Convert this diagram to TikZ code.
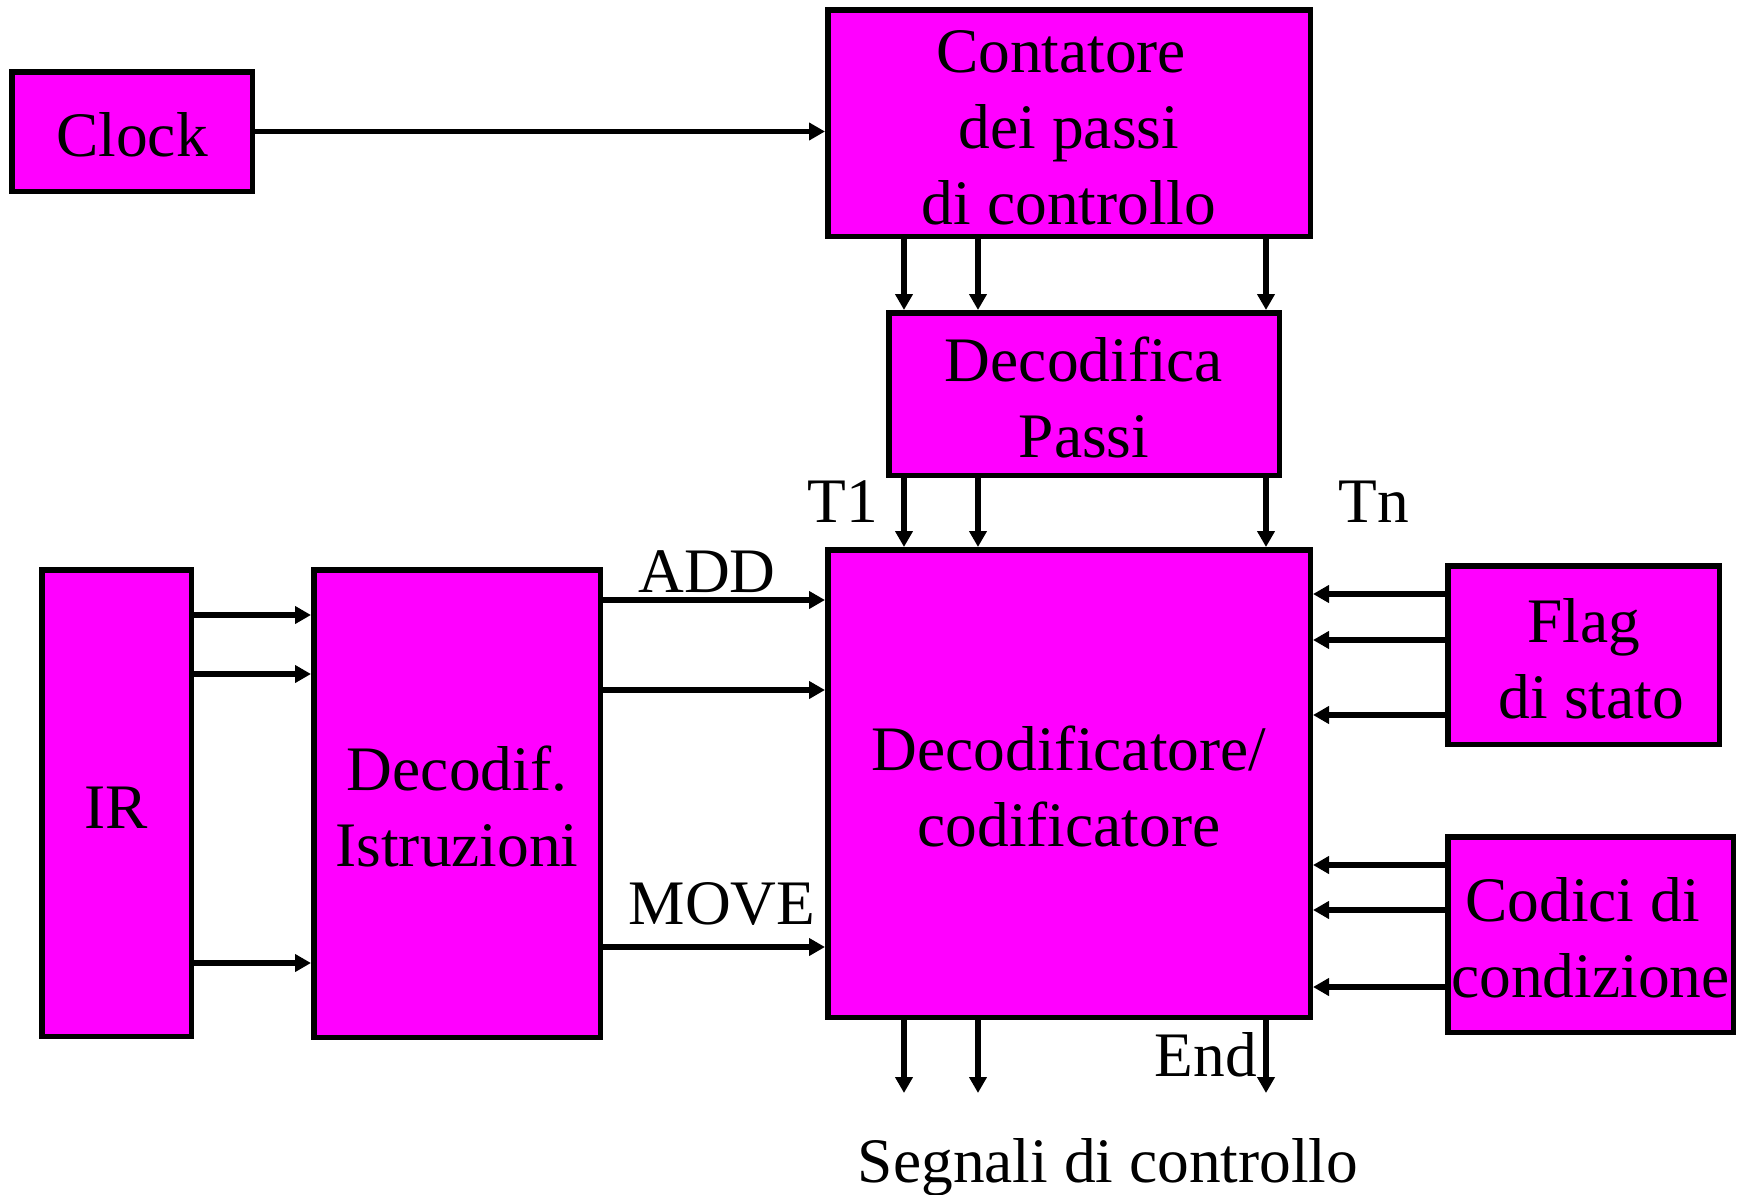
\documentclass[tikz,border=0pt]{standalone}
\usepackage{fontspec}
\setmainfont{Liberation Serif}
\usetikzlibrary{arrows.meta}
\definecolor{mag}{HTML}{FF00FF}
\newcommand{\tp}{\rule{0pt}{25.5pt}}
\newcommand{\padsp}{\hspace*{0.25em}}
\begin{document}
\begin{tikzpicture}[x=0.5pt,y=-0.5pt,
  box/.style={draw=black,fill=mag,line width=2.75pt,inner sep=0pt,align=center,
    font=\fontsize{31.7}{38}\selectfont},
  lbl/.style={inner sep=0pt,anchor=base,font=\fontsize{31.7}{38}\selectfont},
  arr/.style={line width=2.75pt,-{Triangle[length=8pt,width=8.5pt]}}]
\useasboundingbox (0,0) rectangle (1750,1194);
% boxes
\node[box,minimum width=120.25pt,minimum height=59.75pt] (clock) at (132,131.5) {\tp Clock};
\node[box,minimum width=241.25pt,minimum height=113.25pt] (cont) at (1069,123) {\tp Contatore\padsp\\dei passi\padsp\\di controllo};
\node[box,minimum width=195.25pt,minimum height=81.25pt] (dp) at (1084,394) {\tp Decodifica\\Passi};
\node[box,minimum width=241.25pt,minimum height=233.75pt] (dc) at (1069,783.5) {\tp Decodificatore/\\codificatore};
\node[box,minimum width=74.75pt,minimum height=233.25pt] (ir) at (116.5,803) {\tp IR};
\node[box,minimum width=143.25pt,minimum height=233.75pt] (di) at (457,803.5) {\tp Decodif.\\Istruzioni};
\node[box,minimum width=135.75pt,minimum height=89.25pt] (flag) at (1583.5,655) {\tp Flag\\\padsp di stato};
\node[box,minimum width=142.75pt,minimum height=97.75pt] (cod) at (1590.5,934.5) {\tp Codici di\padsp\\condizione};
% helper coordinates
\coordinate (xa) at (904,0);
\coordinate (xb) at (978,0);
\coordinate (xc) at (1266,0);
\coordinate (oa) at (904,1093);
\coordinate (ob) at (978,1093);
\coordinate (oc) at (1266,1093);
\coordinate (i1) at (0,615);
\coordinate (i2) at (0,674);
\coordinate (i3) at (0,963);
\coordinate (d1) at (0,600);
\coordinate (d2) at (0,690);
\coordinate (d3) at (0,947);
\coordinate (f1) at (0,594);
\coordinate (f2) at (0,640);
\coordinate (f3) at (0,715);
\coordinate (c1) at (0,865);
\coordinate (c2) at (0,910);
\coordinate (c3) at (0,987);
% connectors
\draw[arr] (clock.east) -- (clock.east -| cont.west);
\foreach \x in {xa,xb,xc} {
  \draw[arr] (cont.south -| \x) -- (dp.north -| \x);
  \draw[arr] (dp.south -| \x) -- (dc.north -| \x);
}
\draw[arr] (dc.south -| oa) -- (oa);
\draw[arr] (dc.south -| ob) -- (ob);
\draw[arr] (dc.south -| oc) -- (oc);
\foreach \y in {i1,i2,i3} \draw[arr] (ir.east |- \y) -- (di.west |- \y);
\foreach \y in {d1,d2,d3} \draw[arr] (di.east |- \y) -- (dc.west |- \y);
\foreach \y in {f1,f2,f3} \draw[arr] (flag.west |- \y) -- (dc.east |- \y);
\foreach \y in {c1,c2,c3} \draw[arr] (cod.west |- \y) -- (dc.east |- \y);
% labels
\node[lbl] (t1) at (843,522) {T1};
\node[lbl] (tn) at (1374,522) {Tn};
\node[lbl] (add) at (707,592) {ADD};
\node[lbl] (move) at (722,924) {MOVE};
\node[lbl] (end) at (1206,1076) {End};
\node[lbl] (seg) at (1108,1182) {Segnali di controllo};
\end{tikzpicture}
\end{document}
